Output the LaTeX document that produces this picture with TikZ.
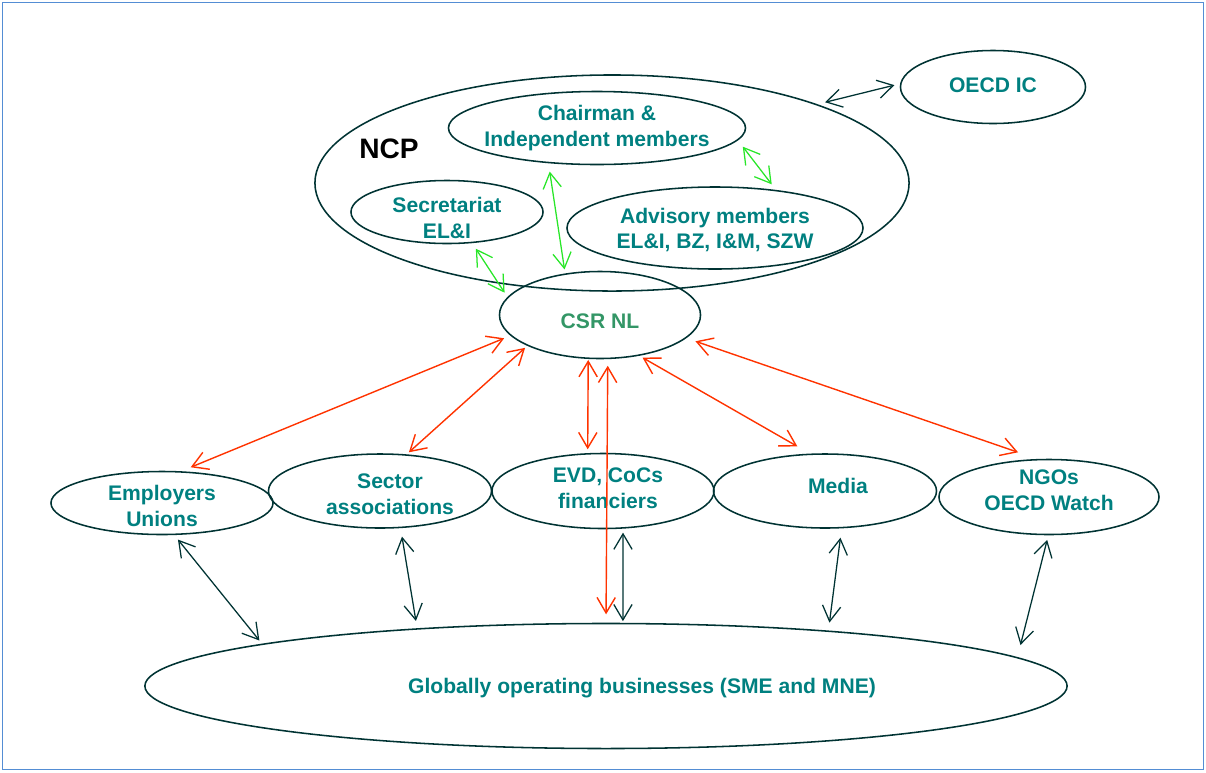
\documentclass[tikz,border=0pt]{standalone}
\usepackage{fontspec}
\setmainfont{Liberation Sans}
\usetikzlibrary{arrows.meta,shapes.geometric}
\definecolor{ovalline}{RGB}{0,51,51}
\definecolor{txtteal}{RGB}{0,128,128}
\definecolor{csrgreen}{RGB}{51,150,102}
\definecolor{linkred}{RGB}{255,51,0}
\definecolor{linkgreen}{RGB}{40,230,40}
\definecolor{frameblue}{RGB}{84,141,212}
\tikzset{
  txt/.style={text=txtteal, font=\bfseries\fontsize{15}{18.4}\selectfont, align=center},
  oval/.style={draw=ovalline, ellipse, line width=1.1pt, inner sep=0pt},
  >={Straight Barb[length=11pt,width=13pt]},
  redarr/.style={<->, draw=linkred, line width=1pt},
  grnarr/.style={<->, draw=linkgreen, line width=0.9pt},
  drkarr/.style={<->, draw=ovalline, line width=0.9pt},
  frame/.style={draw=frameblue, line width=1.3pt},
}

\begin{document}
\begin{tikzpicture}[x=0.025cm, y=-0.025cm]

\useasboundingbox (0,0) rectangle (1206,772);
\draw[frame] (2.5,2.5) rectangle (1203.5,769.5);

% NCP and its members
\node[oval, minimum width=14.85cm, minimum height=5.4cm] (ncp) at (612,183) {};
\node[font=\bfseries\fontsize{20}{24}\selectfont] (ncplbl) at (389,149) {NCP};
\node[oval, minimum width=7.425cm, minimum height=1.825cm,
  label={[txt]center:Chairman \&\\Independent members}] (chair) at (597,128) {};
\node[oval, minimum width=4.8cm, minimum height=1.575cm,
  label={[txt, yshift=-0.15cm]center:Secretariat\\EL\&I}] (secr) at (447,212) {};
\node[oval, minimum width=7.4cm, minimum height=2.05cm,
  label={[txt, yshift=-0.05cm]center:Advisory members\\EL\&I, BZ, I\&M, SZW}] (adv) at (715,228) {};
\node[oval, minimum width=4.625cm, minimum height=1.825cm,
  label={[txt, yshift=0.05cm]center:OECD IC}] (oecd) at (993,87) {};

% CSR NL
\node[oval, minimum width=5.025cm, minimum height=2.175cm,
  label={[txt, text=csrgreen, yshift=-0.15cm]center:CSR NL}] (csr) at (600,315) {};

% Stakeholders
\node[oval, minimum width=5.55cm, minimum height=1.575cm,
  label={[txt, yshift=-0.075cm]center:Employers\\Unions}] (emp) at (162,503) {};
\node[oval, minimum width=5.575cm, minimum height=1.85cm,
  label={[txt, xshift=0.25cm, yshift=-0.075cm]center:Sector\\associations}] (sect) at (380,491) {};
\node[oval, minimum width=5.55cm, minimum height=1.875cm,
  label={[txt, xshift=0.125cm, yshift=0.075cm]center:EVD, CoCs\\financiers}] (evd) at (603,491) {};
\node[oval, minimum width=5.575cm, minimum height=1.85cm,
  label={[txt, xshift=0.325cm, yshift=0.125cm]center:Media}] (media) at (825,491) {};
\node[oval, minimum width=5.5cm, minimum height=1.875cm,
  label={[txt, yshift=0.175cm]center:NGOs\\OECD Watch}] (ngo) at (1049,497) {};

% Businesses
\node[oval, minimum width=23.05cm, minimum height=3.125cm,
  label={[txt, xshift=0.9cm, yshift=-0.05cm]center:Globally operating businesses (SME and MNE)}] (glob) at (606,686) {};

% Links inside NCP
\draw[grnarr, shorten <=0.2cm, shorten >=0.175cm] (chair.-5) -- (adv.32);
\draw[grnarr, shorten <=0.21cm, shorten >=0.1cm] (chair.-144.5) -- (csr.130);
\draw[grnarr, shorten <=0.165cm, shorten >=0.13cm] (secr.-51.4) -- (csr.169.2);
\draw[drkarr, shorten <=0.2cm, shorten >=0.145cm] (ncp.21.4) -- (oecd.178.6);

% Links from CSR NL
\draw[redarr, shorten <=0.17cm, shorten >=0.26cm] (csr.-167.1) -- (emp.59.3);
\draw[redarr, shorten <=0.075cm, shorten >=0.075cm] (csr.-157.6) -- (sect.54.4);
\draw[redarr, shorten <=0.025cm, shorten >=0.095cm] (csr.-105.5) -- (evd.112);
\draw[redarr, shorten <=0.165cm, shorten >=0.21cm] (csr.-80.8) -- (glob.90);
\draw[redarr, shorten <=0.09cm, shorten >=0.36cm] (csr.-46) -- (media.112.8);
\draw[redarr, shorten <=0.24cm, shorten >=0.51cm] (csr.-15.9) -- (ngo.107.1);

% Links to businesses
\draw[drkarr, shorten <=0.145cm, shorten >=0.105cm] (emp.-69.8) -- (glob.173.4);
\draw[drkarr, shorten <=0.215cm, shorten >=0.185cm] (sect.-61.3) -- (glob.163.7);
\draw[drkarr, shorten <=0.1cm, shorten >=0.04cm] (evd.-62.8) -- (glob.75.6);
\draw[drkarr, shorten <=0.235cm, shorten >=0.2cm] (media.-66.9) -- (glob.14.3);
\draw[drkarr, shorten <=0.12cm, shorten >=0.315cm] (ngo.-91) -- (glob.4.2);

\end{tikzpicture}
\end{document}
